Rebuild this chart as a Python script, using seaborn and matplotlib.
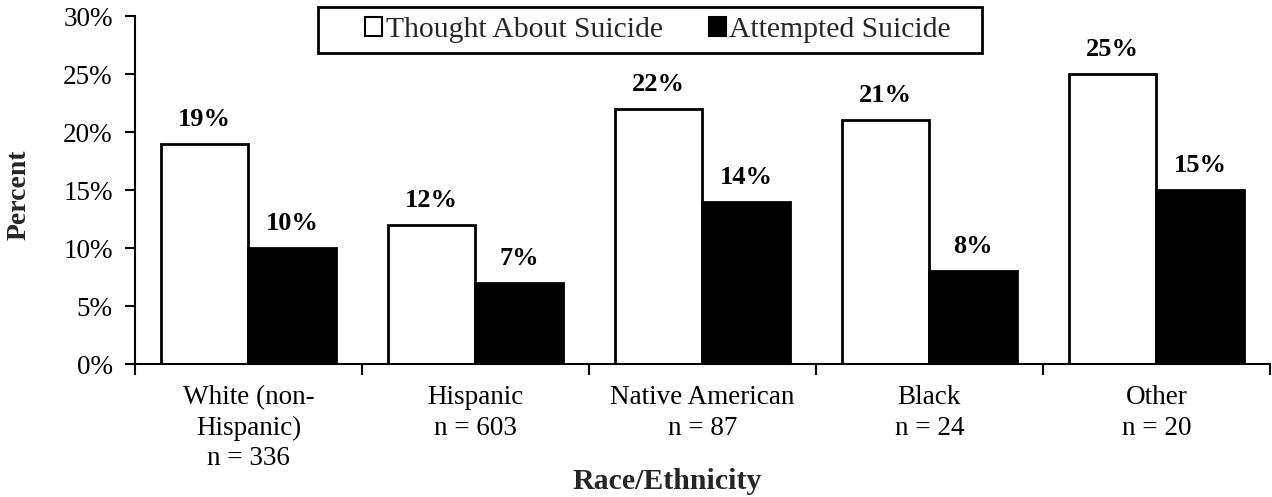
import pandas as pd
import matplotlib.pyplot as plt
import seaborn as sns
from matplotlib.patches import Rectangle
from matplotlib.ticker import PercentFormatter

groups = ["White (non-\nHispanic)\nn = 336", "Hispanic\nn = 603", "Native American\nn = 87",
          "Black\nn = 24", "Other\nn = 20"]
series = ["Thought About Suicide", "Attempted Suicide"]
thought = [19, 12, 22, 21, 25]
attempted = [10, 7, 14, 8, 15]

df = pd.DataFrame({
    "group": groups * 2,
    "series": [series[0]] * len(groups) + [series[1]] * len(groups),
    "value": thought + attempted,
})

FS = 19.5
W, H = 1272, 497

sns.set_theme(style="white")
plt.rcParams['font.family'] = ['Liberation Serif', 'DejaVu Serif']
plt.rcParams['font.size'] = FS

fig = plt.figure(figsize=(W / 100, H / 100), dpi=100)
ax = fig.add_axes([0.1061, 0.2676, 0.8923, 0.7002])

sns.barplot(data=df, x="group", y="value", hue="series", order=groups, hue_order=series,
            palette=["white", "black"], edgecolor="black", linewidth=2, width=0.77,
            saturation=1, ax=ax)

# value labels above bars
for cont in ax.containers:
    for bar in cont:
        h = bar.get_height()
        ax.annotate(f"{h:.0f}%", (bar.get_x() + bar.get_width() / 2, h),
                    xytext=(0, 13), textcoords="offset points", ha="center", va="baseline",
                    fontweight="bold", fontsize=FS - 0.5, color="black")

ax.set_ylim(0, 30)
ax.set_xlim(-0.5, 4.5)
ax.set_yticks(range(0, 31, 5))
ax.yaxis.set_major_formatter(PercentFormatter(decimals=0))
ax.set_xticks([i - 0.5 for i in range(6)], minor=True)
ax.tick_params(axis="x", which="major", length=0, pad=15, labelsize=FS, colors="black")
ax.tick_params(axis="x", which="minor", length=8, width=1.5, color="black", direction="out", bottom=True)
ax.tick_params(axis="y", length=7, width=1.5, color="black", direction="out", left=True,
               labelsize=FS, labelcolor="black", pad=9)
for lab in ax.get_xticklabels():
    lab.set_linespacing(1.3)

for s in ["top", "right"]:
    ax.spines[s].set_visible(False)
for s in ["left", "bottom"]:
    ax.spines[s].set_color("black")
    ax.spines[s].set_linewidth(1.5)

ax.set_xlabel("Race/Ethnicity", fontweight="bold", fontsize=21.5)
ax.set_ylabel("Percent", fontweight="bold", fontsize=20)
ax.xaxis.set_label_coords(0.469, -0.299)
ax.yaxis.set_label_coords(-0.0907, 0.485)

# legend: frameless entries inside a drawn box
handles, labels = ax.get_legend_handles_labels()
ax.get_legend().remove()
leg = fig.legend(handles, labels, loc="center left", bbox_to_anchor=(365 / W, 1 - 30 / H), ncol=2,
                 frameon=False, handlelength=0.58, handleheight=0.58, handletextpad=0.12,
                 columnspacing=1.55, fontsize=21.3, borderpad=0, borderaxespad=0)
for h in leg.legend_handles:
    h.set_linewidth(1.5)
fig.patches.append(Rectangle((318 / W, 1 - 53 / H), (982 - 318) / W, 46 / H,
                             transform=fig.transFigure, fill=False, edgecolor="black", linewidth=2))

fig.savefig("out.png", dpi=100)
